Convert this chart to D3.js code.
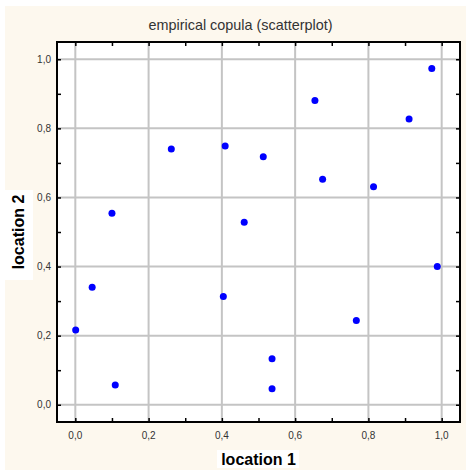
<!DOCTYPE html>
<html>
<head>
<meta charset="utf-8">
<script src="https://cdn.jsdelivr.net/npm/d3@7"></script>
<style>
  body { margin: 0; background: #fff; }
  svg { display: block; font-family: "Liberation Sans", Arial, sans-serif; }
</style>
</head>
<body>
<svg id="chart" width="466" height="470"></svg>
<script>
'use strict';

// empirical copula points
const loc1 = [0.001, 0.046, 0.100, 0.109, 0.262, 0.404, 0.409, 0.461, 0.513,
  0.537, 0.537, 0.654, 0.675, 0.767, 0.814, 0.911, 0.973, 0.988];
const loc2 = [0.216, 0.340, 0.554, 0.057, 0.740, 0.313, 0.749, 0.528, 0.718,
  0.133, 0.046, 0.881, 0.653, 0.244, 0.631, 0.827, 0.973, 0.400];
const tickValues = [0, 0.2, 0.4, 0.6, 0.8, 1.0];
const minorTicks = [0, 0.1, 0.2, 0.3, 0.4, 0.5, 0.6, 0.7, 0.8, 0.9, 1.0];

const points = loc1.map((d, i) => ({ x: d, y: loc2[i] }));

const svg = d3.select('#chart');
const pLeft = 57, pRight = 460, pTop = 42, pBottom = 422;

// cream panel
svg.append('rect')
  .attr('x', 5).attr('y', 6)
  .attr('width', 461).attr('height', 464)
  .attr('fill', '#fdf8ee');

const x = d3.scaleLinear().domain([-0.05, 1.05]).range([pLeft, pRight]);
const y = d3.scaleLinear().domain([-0.05, 1.05]).range([pBottom, pTop]);
const fmt = d => d3.format('.1f')(d).replace('.', ',');

// plot background
svg.append('rect')
  .attr('x', pLeft).attr('y', pTop)
  .attr('width', pRight - pLeft).attr('height', pBottom - pTop)
  .attr('fill', '#fff');

// grid
svg.append('g').selectAll('line')
  .data(tickValues).enter().append('line')
  .attr('x1', d => x(d)).attr('x2', d => x(d))
  .attr('y1', pTop).attr('y2', pBottom)
  .attr('stroke', '#c4c4c4').attr('stroke-width', 2);
svg.append('g').selectAll('line')
  .data(tickValues).enter().append('line')
  .attr('y1', d => y(d)).attr('y2', d => y(d))
  .attr('x1', pLeft).attr('x2', pRight)
  .attr('stroke', '#c4c4c4').attr('stroke-width', 2);

// axes with inward ticks on all sides
const axisStyle = g => {
  g.select('.domain').remove();
  g.selectAll('.tick line').attr('stroke', '#000').attr('stroke-width', 1.5);
};
svg.append('g').attr('transform', `translate(0,${pBottom})`)
  .call(d3.axisBottom(x).tickValues(minorTicks).tickSizeInner(-4).tickSizeOuter(0).tickFormat(''))
  .call(axisStyle);
svg.append('g').attr('transform', `translate(0,${pTop})`)
  .call(d3.axisTop(x).tickValues(minorTicks).tickSizeInner(-4).tickSizeOuter(0).tickFormat(''))
  .call(axisStyle);
svg.append('g').attr('transform', `translate(${pLeft},0)`)
  .call(d3.axisLeft(y).tickValues(minorTicks).tickSizeInner(-4).tickSizeOuter(0).tickFormat(''))
  .call(axisStyle);
svg.append('g').attr('transform', `translate(${pRight},0)`)
  .call(d3.axisRight(y).tickValues(minorTicks).tickSizeInner(-4).tickSizeOuter(0).tickFormat(''))
  .call(axisStyle);

// tick labels
svg.append('g').selectAll('text')
  .data(tickValues).enter().append('text')
  .attr('x', d => x(d)).attr('y', 439)
  .attr('text-anchor', 'middle')
  .attr('font-size', 10).attr('fill', '#333')
  .text(fmt);
svg.append('g').selectAll('text')
  .data(tickValues).enter().append('text')
  .attr('x', 51).attr('y', d => y(d) + 3.5)
  .attr('text-anchor', 'end')
  .attr('font-size', 10).attr('fill', '#333')
  .text(fmt);

// frame
svg.append('rect')
  .attr('x', pLeft).attr('y', pTop)
  .attr('width', pRight - pLeft).attr('height', pBottom - pTop)
  .attr('fill', 'none').attr('stroke', '#000').attr('stroke-width', 2);

// points
svg.append('g').selectAll('circle')
  .data(points).enter().append('circle')
  .attr('cx', d => x(d.x)).attr('cy', d => y(d.y))
  .attr('r', 3.5)
  .attr('fill', '#0000ff');

// title
svg.append('text')
  .attr('x', 240.5).attr('y', 30)
  .attr('text-anchor', 'middle')
  .attr('font-size', 14.4).attr('fill', '#333')
  .text('empirical copula (scatterplot)');

// axis titles in white boxes
svg.append('rect')
  .attr('x', 217).attr('y', 450).attr('width', 82).attr('height', 18)
  .attr('fill', '#fff');
svg.append('text')
  .attr('x', (pLeft + pRight) / 2).attr('y', 465)
  .attr('text-anchor', 'middle')
  .attr('font-size', 16).attr('font-weight', 'bold').attr('fill', '#000')
  .text('location 1');

svg.append('rect')
  .attr('x', 5).attr('y', 190).attr('width', 28).attr('height', 90)
  .attr('fill', '#fff');
svg.append('text')
  .attr('transform', `translate(24,${(pTop + pBottom) / 2}) rotate(-90)`)
  .attr('text-anchor', 'middle')
  .attr('font-size', 16).attr('font-weight', 'bold').attr('fill', '#000')
  .text('location 2');
</script>
</body>
</html>
